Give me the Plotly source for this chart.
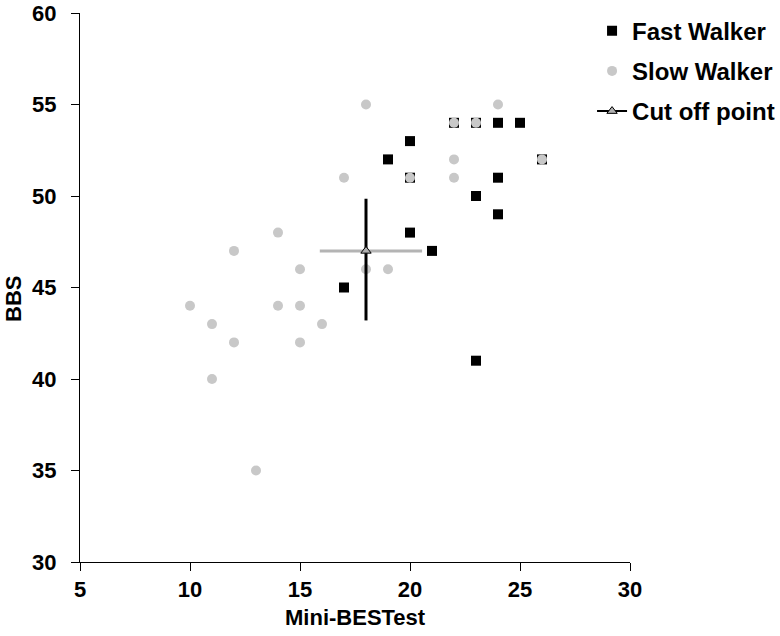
import plotly.graph_objects as go

fast_x = [17, 19, 20, 20, 21, 22, 23, 23, 23, 24, 24, 24, 25, 26, 20]
fast_y = [45, 52, 53, 48, 47, 54, 54, 50, 41, 54, 51, 49, 54, 52, 51]

slow_x = [10, 11, 11, 12, 12, 13, 14, 14, 15, 15, 15, 16, 17, 18, 18, 19, 20, 22, 22, 22, 23, 24, 26]
slow_y = [44, 43, 40, 47, 42, 35, 48, 44, 46, 44, 42, 43, 51, 55, 46, 46, 51, 54, 52, 51, 54, 55, 52]

cut_x = [18]
cut_y = [47]
cut_x_minus = [2.1]
cut_x_plus = [2.55]
cut_y_plus = [2.85]
cut_y_minus = [3.8]

x_ticks = [5, 10, 15, 20, 25, 30]
y_ticks = [30, 35, 40, 45, 50, 55, 60]

font_main = "Liberation Sans, Arial, sans-serif"

fig = go.Figure()

fig.add_trace(go.Scatter(
    x=fast_x, y=fast_y, mode="markers", name="Fast Walker",
    legendgroup="a",
    marker=dict(symbol="square", size=10, color="black"),
))
fig.add_trace(go.Scatter(
    x=slow_x, y=slow_y, mode="markers", name="Slow Walker",
    legendgroup="b",
    marker=dict(symbol="circle", size=10, color="#c8c8c8",
                line=dict(width=0)),
))
fig.add_trace(go.Scatter(
    x=cut_x, y=cut_y, mode="lines+markers", name="Cut off point",
    legendgroup="c",
    line=dict(color="black", width=2),
    marker=dict(symbol="triangle-up", size=9, color="#b0b0b0",
                line=dict(color="black", width=1)),
    error_x=dict(type="data", symmetric=False, array=cut_x_plus,
                 arrayminus=cut_x_minus, color="#b4b4b4", thickness=3, width=0),
    error_y=dict(type="data", symmetric=False, array=cut_y_plus,
                 arrayminus=cut_y_minus, color="black", thickness=3, width=0),
))

fig.update_layout(
    width=780, height=636,
    margin=dict(l=80, r=150, t=13, b=74, autoexpand=False),
    paper_bgcolor="white", plot_bgcolor="white",
    font=dict(family=font_main, size=22, color="black"),
    showlegend=True,
    legend=dict(x=0.931, y=1.008, xanchor="left", yanchor="top",
                xref="paper", yref="paper",
                font=dict(family=font_main, size=24, color="black", weight="bold"),
                traceorder="grouped", tracegroupgap=6,
                bgcolor="rgba(0,0,0,0)", itemwidth=30),
    xaxis=dict(range=[5, 30], tickvals=x_ticks, ticktext=[str(v) for v in x_ticks],
               showgrid=False, zeroline=False, showline=True, linecolor="black",
               linewidth=1, ticks="outside", ticklen=8, tickcolor="black",
               automargin=False,
               tickfont=dict(family=font_main, size=22, weight="bold")),
    yaxis=dict(range=[30, 60], tickvals=y_ticks, ticktext=[str(v) for v in y_ticks],
               showgrid=False, zeroline=False, showline=True, linecolor="black",
               linewidth=1, ticks="outside", ticklen=8, tickcolor="black",
               automargin=False, ticklabelstandoff=10,
               tickfont=dict(family=font_main, size=22, weight="bold")),
    annotations=[
        dict(text="Mini-BESTest", xref="paper", yref="paper", x=0.5, y=-0.102,
             xanchor="center", yanchor="middle", showarrow=False,
             font=dict(family=font_main, size=22, weight="bold", color="black")),
        dict(text="BBS", xref="paper", yref="paper", x=-0.122, y=0.479,
             xanchor="center", yanchor="middle", showarrow=False, textangle=-90,
             font=dict(family=font_main, size=22, weight="bold", color="black")),
    ],
)

fig.write_html("out.html", config={"displayModeBar": False},
               post_script="document.body.style.margin='0px';")
